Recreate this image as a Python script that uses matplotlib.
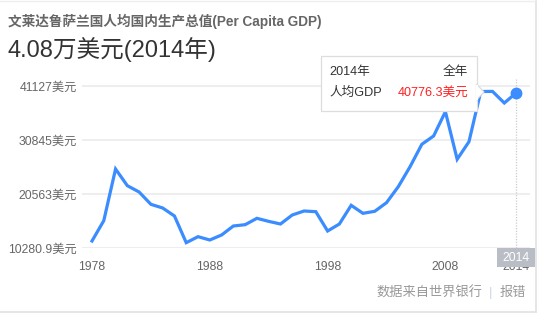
import matplotlib

matplotlib.use("Agg")
import matplotlib.pyplot as plt
from matplotlib.patches import Rectangle, Polygon, FancyBboxPatch

# Brunei per-capita GDP (USD).
YEARS = list(range(1978, 2015))
GDP = [11670, 15530, 25350, 22180, 20980, 18640, 17940, 16420, 11350, 12490,
       11860, 12810, 14520, 14770, 15980, 15400, 14900, 16610, 17370, 17240,
       13570, 14900, 18450, 16930, 17310, 18950, 21990, 25790, 30050, 31630,
       36240, 27200, 30540, 40080, 40100, 37900, 39800]
Y_TICKS = [10280.9, 20563, 30845, 41127]
Y_TICK_LABELS = ["10280.9美元", "20563美元", "30845美元", "41127美元"]
X_TICKS = [1978, 1988, 1998, 2008, 2014]

TITLE = "文莱达鲁萨兰国人均国内生产总值(Per Capita GDP)"
HEADLINE = "4.08万美元(2014年)"
TIP_YEAR, TIP_PERIOD = "2014年", "全年"
TIP_NAME, TIP_VALUE = "人均GDP", "40776.3美元"

FONT = ["Liberation Sans", "Noto Sans CJK SC", "DejaVu Sans"]
plt.rcParams["font.family"] = FONT

BLUE = "#3a8cff"
GRID = "#eeeeee"
LABEL = "#666666"

W, H = 538, 315
fig = plt.figure(figsize=(W / 100, H / 100), dpi=100)
fig.patch.set_facecolor("white")

# plot area in pixel terms: x 82..530, y 78..248.3
px_left, px_right, px_top, px_bot = 82, 530, 78, 248.3
ax = fig.add_axes([px_left / W, (H - px_bot) / H,
                   (px_right - px_left) / W, (px_bot - px_top) / H])

per_year = 11.78
per_px = (41127 - 10280.9) / (248.3 - 86)
ax.set_xlim(1978 - 10 / per_year, 1978 + (px_right - 92) / per_year)
ax.set_ylim(10280.9, 10280.9 + (px_bot - px_top) * per_px)

for v in Y_TICKS:
    ax.axhline(v, color=GRID, lw=1.4, zorder=1)
ax.axvline(2014, color="#cccccc", lw=0.9, ls=(0, (1, 1.2)), zorder=1)

ax.plot(YEARS, GDP, color=BLUE, lw=2.3, solid_joinstyle="miter", zorder=3)
ax.plot(YEARS[-1], GDP[-1], "o", color=BLUE, ms=7.5, zorder=4)

for s in ax.spines.values():
    s.set_visible(False)
ax.set_yticks(Y_TICKS, Y_TICK_LABELS)
ax.set_xticks(X_TICKS, [str(x) for x in X_TICKS])
ax.tick_params(length=0, labelsize=8.8, labelcolor=LABEL)
ax.tick_params(axis="y", pad=3.5)
ax.tick_params(axis="x", pad=9.5)
ax.set_facecolor("none")

# overlay in pixel coordinates for the page furniture
ov = fig.add_axes([0, 0, 1, 1], zorder=5)
ov.set_xlim(0, W)
ov.set_ylim(H, 0)
ov.axis("off")
ov.patch.set_alpha(0)

ov.text(8, 21, TITLE, ha="left", va="center", fontsize=9.8, fontweight="bold",
        color="#666666")
ov.text(7, 50, HEADLINE, ha="left", va="center", fontsize=17, color="#333333")

# tooltip
ov.add_patch(FancyBboxPatch((321, 56), 156, 55, boxstyle="square,pad=0",
                            facecolor="white", edgecolor="#dddddd", lw=0.9))
ov.add_patch(Polygon([(476.5, 84), (484, 92), (476.5, 100)], closed=True,
                     facecolor="white", edgecolor="#dddddd", lw=0.9))
ov.add_patch(Rectangle((475.5, 84.5), 2, 15, facecolor="white", edgecolor="none"))
ov.text(329, 72, TIP_YEAR, ha="left", va="center", fontsize=9.1, color="#333333")
ov.text(468, 72, TIP_PERIOD, ha="right", va="center", fontsize=9.1, color="#333333")
ov.text(329, 93, TIP_NAME, ha="left", va="center", fontsize=9.1, color="#333333")
ov.text(468, 93, TIP_VALUE, ha="right", va="center", fontsize=9.1, color="#ff2020")

# highlighted x label for the hovered year
ov.add_patch(Rectangle((497, 248), 38, 19, facecolor="#b9bdc6", edgecolor="none"))
ov.text(516, 258, "2014", ha="center", va="center", fontsize=8.8, color="white")

# footer
ov.text(482, 293, "数据来自世界银行", ha="right", va="center", fontsize=9.5,
        color="#999999")
ov.text(491, 293, "|", ha="center", va="center", fontsize=9.5, color="#cfd8e6")
ov.text(526, 293, "报错", ha="right", va="center", fontsize=9.5, color="#999999")

# card border
ov.plot([535.5, 535.5], [0, 311.5], color="#e2e2e2", lw=1.2)
ov.plot([0, 535.5], [311.5, 311.5], color="#e2e2e2", lw=1.2)
ov.plot([0, 535.5], [0.5, 0.5], color="#eeeeee", lw=1.0)

fig.savefig("out.png", dpi=100, facecolor="white")
